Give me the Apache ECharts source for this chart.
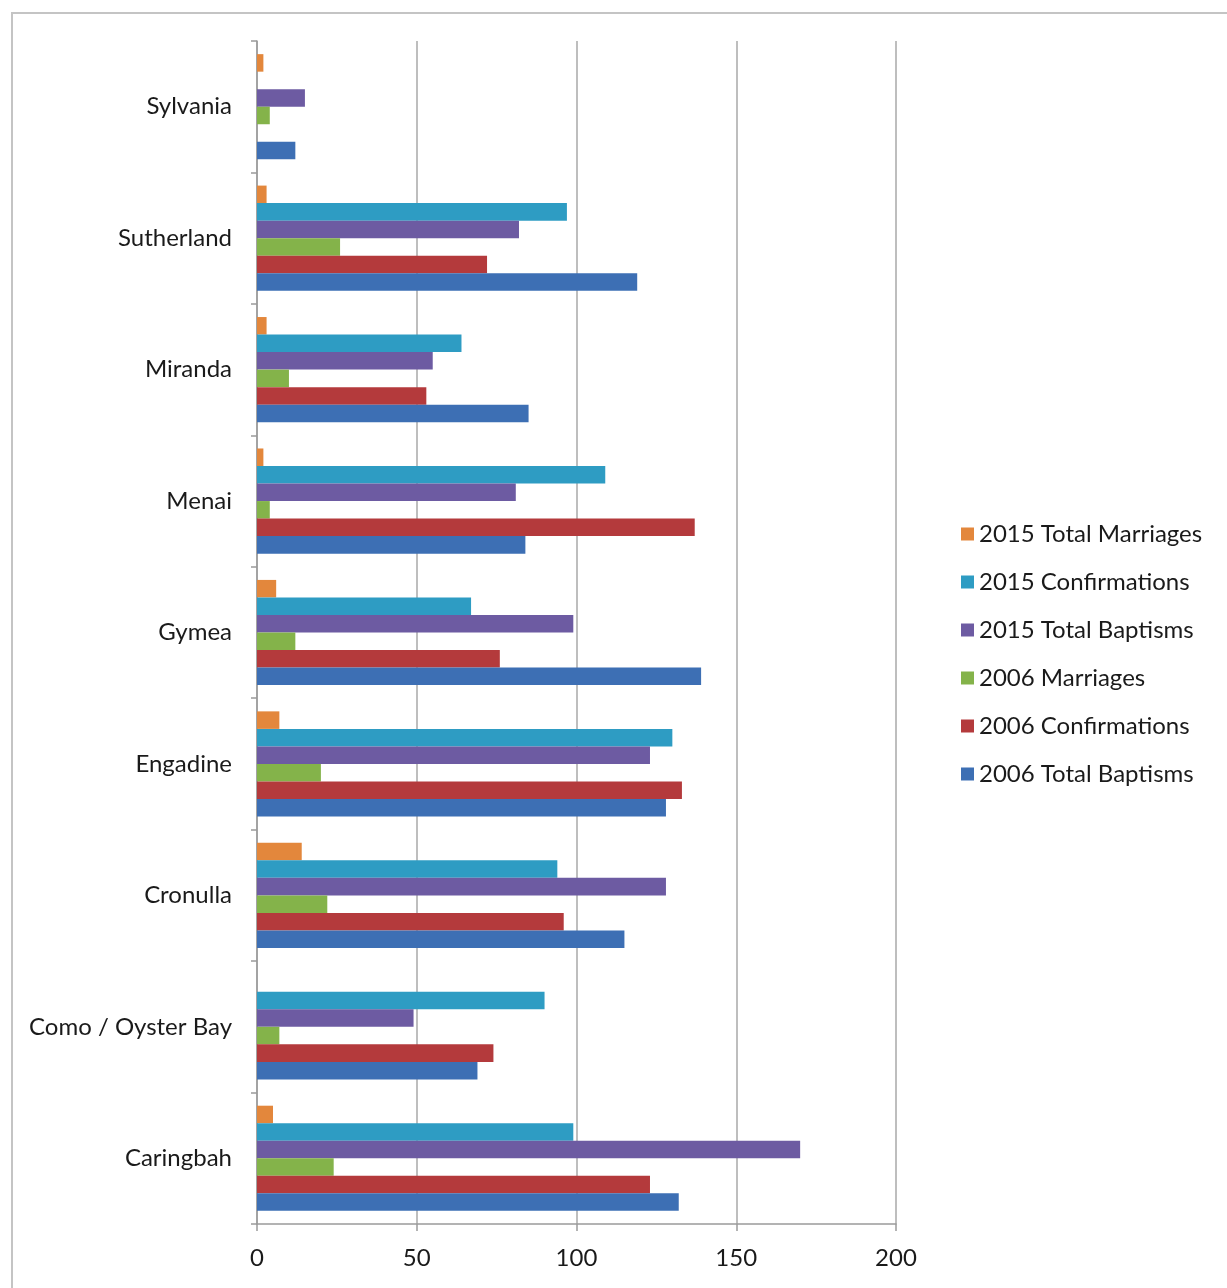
<!DOCTYPE html>
<html>
<head>
<meta charset="utf-8">
<script src="https://cdn.jsdelivr.net/npm/echarts@6/dist/echarts.min.js"></script>
<style>
  html, body { margin: 0; padding: 0; background: #fff; }
  #chart { width: 1227px; height: 1288px; }
</style>
</head>
<body>
<div id="chart"></div>
<script>
// Parishes, listed bottom to top as they appear on the category axis
const parishes = ['Caringbah', 'Como / Oyster Bay', 'Cronulla', 'Engadine', 'Gymea', 'Menai', 'Miranda', 'Sutherland', 'Sylvania'];

// Sacrament counts per parish (same order as parishes)
const baptisms2006      = [132, 69, 115, 128, 139, 84, 85, 119, 12];
const confirmations2006 = [123, 74, 96, 133, 76, 137, 53, 72, 0];
const marriages2006     = [24, 7, 22, 20, 12, 4, 10, 26, 4];
const baptisms2015      = [170, 49, 128, 123, 99, 81, 55, 82, 15];
const confirmations2015 = [99, 90, 94, 130, 67, 109, 64, 97, 0];
const marriages2015     = [5, 0, 14, 7, 6, 2, 3, 3, 2];

// Value axis ticks
const xTicks = [0, 50, 100, 150, 200];

// Series in top-to-bottom order inside each parish band
const seriesDefs = [
  { name: '2015 Total Marriages',  data: marriages2015,     color: '#e3873c' },
  { name: '2015 Confirmations',    data: confirmations2015, color: '#2e9cc3' },
  { name: '2015 Total Baptisms',   data: baptisms2015,      color: '#6d5ba2' },
  { name: '2006 Marriages',        data: marriages2006,     color: '#84b34a' },
  { name: '2006 Confirmations',    data: confirmations2006, color: '#b43a3c' },
  { name: '2006 Total Baptisms',   data: baptisms2006,      color: '#3d6fb4' }
];

const FONT = 'Lato, "Open Sans", sans-serif';
const chart = echarts.init(document.getElementById('chart'));

chart.setOption({
  animation: false,
  backgroundColor: '#ffffff',
  graphic: [{
    type: 'rect',
    shape: { x: 12, y: 13, width: 1260, height: 1320 },
    style: { fill: 'none', stroke: '#c4c4c4', lineWidth: 2 },
    silent: true,
    z: -10
  }],
  grid: { left: 257, right: 331, top: 41, bottom: 64, containLabel: false },
  legend: {
    orient: 'vertical',
    left: 956,
    top: 516,
    itemWidth: 13,
    itemHeight: 13,
    itemGap: 22,
    icon: 'rect',
    data: seriesDefs.map(s => s.name),
    textStyle: { fontFamily: FONT, fontSize: 24, color: '#1a1a1a', lineHeight: 26, padding: [0, 0, 0, 0] }
  },
  xAxis: {
    type: 'value',
    min: xTicks[0],
    max: xTicks[xTicks.length - 1],
    interval: xTicks[1] - xTicks[0],
    axisLine: { show: true, lineStyle: { color: '#9a9a9a', width: 1.5 } },
    axisTick: { show: true, length: 7, lineStyle: { color: '#9a9a9a', width: 1.5 } },
    axisLabel: { fontFamily: FONT, fontSize: 24, color: '#1a1a1a', margin: 22 },
    splitLine: { show: true, lineStyle: { color: '#a8a8a8', width: 1.5 } }
  },
  yAxis: {
    type: 'category',
    data: parishes,
    axisLine: { show: true, lineStyle: { color: '#9a9a9a', width: 1.5 } },
    axisTick: { show: true, length: 6, alignWithLabel: false, lineStyle: { color: '#9a9a9a', width: 1.5 } },
    axisLabel: { fontFamily: FONT, fontSize: 24, color: '#1a1a1a', margin: 25 }
  },
  series: seriesDefs.map(s => ({
    type: 'bar',
    name: s.name,
    data: s.data,
    barGap: '0%',
    barCategoryGap: '20%',
    itemStyle: { color: s.color }
  }))
});
</script>
</body>
</html>
